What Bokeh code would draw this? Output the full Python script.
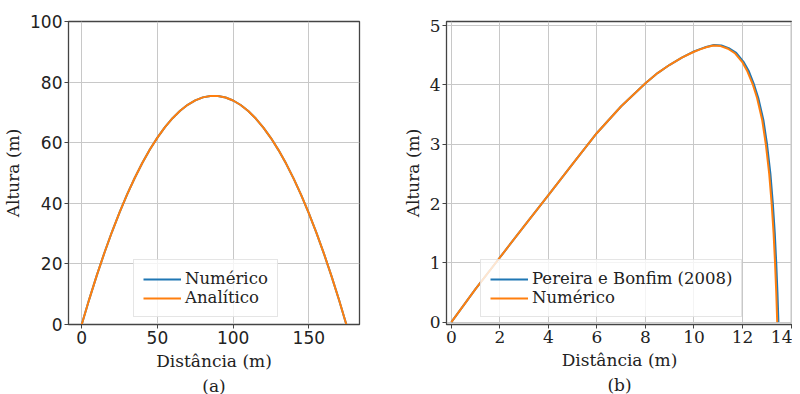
from bokeh.plotting import figure
from bokeh.layouts import row
from bokeh.models import Range1d, FixedTicker, Legend, LegendItem
from bokeh.embed import file_html
from bokeh.resources import INLINE

# ---- data (a): parabolic trajectory ----
xa = [0, 5, 10, 15, 20, 25, 30, 35, 40, 45, 50, 55, 60, 65, 70, 75, 80, 85, 90,
      95, 100, 105, 110, 115, 120, 125, 130, 135, 140, 145, 150, 155, 160, 165, 170, 174.8]
ya_num = [0, 8.39, 16.29, 23.69, 30.60, 37.02, 42.94, 48.36, 53.29, 57.73, 61.68, 65.13,
          68.08, 70.54, 72.51, 73.98, 74.96, 75.44, 75.43, 74.93, 73.93, 72.44, 70.45,
          67.97, 65.00, 61.53, 57.56, 53.11, 48.15, 42.71, 36.77, 30.33, 23.40, 15.98, 8.07, 0]
ya_ana = [0, 8.39, 16.29, 23.69, 30.60, 37.02, 42.94, 48.36, 53.29, 57.73, 61.68, 65.13,
          68.08, 70.54, 72.51, 73.98, 74.96, 75.44, 75.43, 74.93, 73.93, 72.44, 70.45,
          67.97, 65.00, 61.53, 57.56, 53.11, 48.15, 42.71, 36.77, 30.33, 23.40, 15.98, 8.07, 0]

# ---- data (b): trajectory with drag ----
xb_pb = [0, 1, 2, 3, 4, 5, 6, 7, 8, 8.5, 9, 9.5, 10, 10.25, 10.5, 10.82, 11.13, 11.43,
         11.74, 12.04, 12.25, 12.48, 12.65, 12.86, 13.01, 13.15, 13.25, 13.33, 13.39,
         13.44, 13.48]
yb_pb = [0, 0.56, 1.09, 1.62, 2.14, 2.67, 3.19, 3.64, 4.03, 4.2, 4.34, 4.46, 4.565, 4.605,
         4.64, 4.675, 4.665, 4.62, 4.54, 4.39, 4.24, 4.0, 3.78, 3.41, 3.0, 2.5, 2.0, 1.5,
         1.0, 0.5, 0]
xb_num = [0, 1, 2, 3, 4, 5, 6, 7, 8, 8.5, 9, 9.5, 10, 10.25, 10.5, 10.8, 11.1, 11.4,
          11.7, 12, 12.2, 12.43, 12.6, 12.81, 12.96, 13.1, 13.2, 13.28, 13.34, 13.39, 13.43]
yb_num = [0, 0.56, 1.09, 1.62, 2.14, 2.67, 3.19, 3.64, 4.03, 4.2, 4.34, 4.46, 4.56, 4.6,
          4.635, 4.665, 4.655, 4.61, 4.53, 4.38, 4.23, 4.0, 3.78, 3.41, 3.0, 2.5, 2.0, 1.5,
          1.0, 0.5, 0]

xticks_a = [0, 50, 100, 150]
yticks_a = [0, 20, 40, 60, 80, 100]
xticks_b = [0, 2, 4, 6, 8, 10, 12, 14]
yticks_b = [0, 1, 2, 3, 4, 5]

BLUE = "#1f77b4"
ORANGE = "#ff7f0e"
SERIF = "DejaVu Serif"
SANS = "DejaVu Sans"
FH = 303


def style(p, tick_font, xt, yt):
    p.outline_line_color = "#444444"
    p.outline_line_width = 1.3
    for ax in (p.xaxis[0], p.yaxis[0]):
        ax.major_label_text_font = tick_font
        ax.major_label_text_font_size = "17px"
        ax.major_label_text_color = "#222222"
        ax.axis_label_text_font = SERIF
        ax.axis_label_text_font_size = "17px"
        ax.axis_label_text_font_style = "normal"
        ax.axis_label_text_color = "#222222"
        ax.minor_tick_line_color = None
        ax.major_tick_in = 0
        ax.major_tick_out = 4
        ax.major_tick_line_color = "#444444"
        ax.axis_line_color = "#444444"
        ax.major_label_standoff = 2
        ax.axis_label_standoff = 4
    p.xaxis[0].axis_label_text_line_height = 1.25
    p.xaxis[0].ticker = FixedTicker(ticks=xt)
    p.yaxis[0].ticker = FixedTicker(ticks=yt)
    p.grid.grid_line_color = "#c8c8c8"
    p.grid.grid_line_width = 1
    p.background_fill_color = "white"
    p.border_fill_color = "white"


def add_legend(p, items, loc):
    lg = Legend(items=items, location=loc)
    lg.label_text_font = SERIF
    lg.label_text_font_size = "16.5px"
    lg.label_text_color = "#222222"
    lg.glyph_width = 38
    lg.glyph_height = 16
    lg.label_height = 17
    lg.label_standoff = 4
    lg.spacing = 0
    lg.padding = 9
    lg.margin = 0
    lg.border_line_color = "#cccccc"
    lg.background_fill_alpha = 0.8
    p.add_layout(lg, "center")


# ---- figure (a) ----
pa = figure(frame_width=291, frame_height=FH, output_backend="svg", toolbar_location=None,
            x_range=Range1d(-8.74, 183.5), y_range=Range1d(0, 100),
            min_border_left=60, min_border_right=21, min_border_top=21, min_border_bottom=66)
ra1 = pa.line(xa, ya_num, line_color=BLUE, line_width=2)
ra2 = pa.line(xa, ya_ana, line_color=ORANGE, line_width=2)
pa.xaxis.axis_label = "Distância (m)\n(a)"
pa.yaxis.axis_label = "Altura (m)"
style(pa, SANS, xticks_a, yticks_a)
add_legend(pa, [LegendItem(label="Numérico", renderers=[ra1]),
                LegendItem(label="Analítico", renderers=[ra2])], (65, 7))

# ---- figure (b) ----
pb = figure(frame_width=346, frame_height=FH, output_backend="svg", toolbar_location=None,
            x_range=Range1d(-0.2, 14.06), y_range=Range1d(-0.04, 5.07),
            min_border_left=66, min_border_right=0, min_border_top=21, min_border_bottom=66)
rb1 = pb.line(xb_pb, yb_pb, line_color=BLUE, line_width=2, line_join="round")
rb2 = pb.line(xb_num, yb_num, line_color=ORANGE, line_width=2, line_join="round")
pb.xaxis.axis_label = "Distância (m)\n(b)"
pb.yaxis.axis_label = "Altura (m)"
style(pb, SERIF, xticks_b, yticks_b)
add_legend(pb, [LegendItem(label="Pereira e Bonfim (2008)", renderers=[rb1]),
                LegendItem(label="Numérico", renderers=[rb2])], (34, 7))

layout = row(pa, pb, spacing=0)
open("out.html", "w").write(file_html(layout, INLINE))
